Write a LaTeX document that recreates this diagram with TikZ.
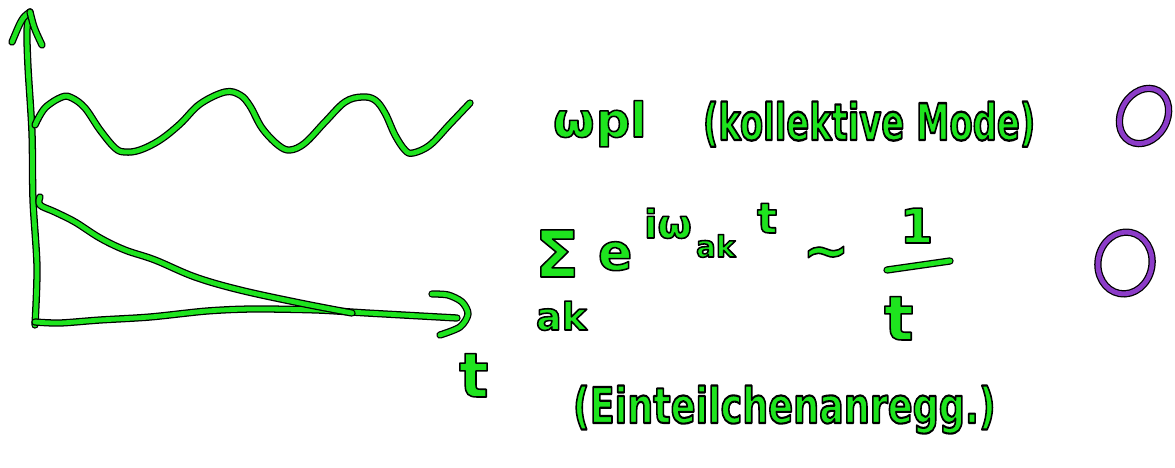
\documentclass[tikz,border=0pt]{standalone}
\usepackage{fontspec}
\setmainfont{DejaVu Sans}
\usepackage{graphicx}
\definecolor{hand}{RGB}{30,228,30}
\definecolor{ink}{RGB}{140,60,200}
\newcommand{\fs}[1]{\fontsize{#1}{#1}\selectfont\bfseries}
\newcommand{\ol}[1]{\special{pdf:literal direct 2 Tr 1.1 w 1 j 0 0 0 RG}#1\special{pdf:literal direct 0 Tr}}
\tikzset{
  pen/.style={draw=hand, line width=3.4pt, line cap=round, line join=round,
    preaction={draw=black, line width=5.2pt, line cap=round, line join=round}},
  purplepen/.style={draw=ink, line width=3.4pt, line cap=round, line join=round,
    preaction={draw=black, line width=5.2pt, line cap=round, line join=round}},
  lbl/.style={text=hand, inner sep=0pt, outer sep=0pt}
}
\begin{document}
\begin{tikzpicture}[x=0.025cm, y=-0.025cm]
\useasboundingbox (0,0) rectangle (1175,467);
% axes
\coordinate (O) at (35,325);
\coordinate (ytop) at (30,12);
\coordinate (xend) at (457,318);
\draw[pen] plot[smooth] coordinates {(35,325) (37,267) (33,200) (32,133) (28,67) (27,30) (30,12)};
\draw[pen] (ytop) .. controls (22,18) .. (12,42);
\draw[pen] (ytop) .. controls (34,28) .. (42,45);
\draw[pen] plot[smooth] coordinates {(35,322) (60,323) (100,320) (150,317) (207,311) (253,309) (317,310) (367,313) (457,318)};
\draw[pen] plot[smooth] coordinates {(432,294) (448,295) (462,302) (468,314) (460,327) (440,335)};
% wave
\draw[pen] plot[smooth, tension=0.6] coordinates {(35,125) (45,108) (62,97) (72,98) (85,108) (100,130) (115,148) (125,152) (140,150) (160,140) (180,124) (200,104) (225,92) (240,95) (250,106) (262,128) (278,145) (290,150) (305,143) (325,122) (345,102) (362,97) (375,100) (385,113) (395,135) (405,150) (413,153) (430,145) (450,124) (470,103)};
% decay
\draw[pen] plot[smooth, tension=0.6] coordinates {(40,197) (40,205) (55,212) (75,222) (100,238) (125,250) (155,260) (195,277) (240,290) (300,303) (352,313)};
% axis label
\node[lbl, anchor=base west] (tlab) at (459,397) {\fs{44}\ol{t}};
% upper label
\node[lbl, anchor=base west] (wpl) at (553,137) {\fs{34}\ol{ω\kern1pt pl}};
\node[lbl, anchor=base west] (koll) at (703,140) {\scalebox{1}[1.5]{\fs{24}\ol{(kollektive Mode)}}};
% sum formula
\node[lbl, anchor=base west] (sig) at (535,277) {\fs{46}\ol{Σ}};
\node[lbl, anchor=base west] (sub) at (536,330) {\fs{27}\ol{ak}};
\node[lbl, anchor=base west] (e) at (598,270) {\fs{36}\ol{e}};
\node[lbl, anchor=base west] (iw) at (644,238) {\fs{28}\ol{iω}};
\node[lbl, anchor=base west] (ak) at (696,257) {\fs{21}\ol{ak}};
\node[lbl, anchor=base west] (t1) at (757,233) {\fs{30}\ol{t}};
\node[lbl] (sim) at (826,258) {\fs{40}\ol{∼}};
\node[lbl, anchor=base west] (one) at (900,243) {\fs{34}\ol{1}};
\coordinate (barL) at (887,270);
\coordinate (barR) at (950,261);
\draw[pen] (barL) -- (barR);
\node[lbl, anchor=base west] (t2) at (884,340) {\fs{44}\ol{t}};
% lower label
\node[lbl, anchor=base west] (ein) at (573,423) {\scalebox{1}[1.35]{\fs{26}\ol{(Einteilchenanregg.)}}};
% purple circles
\draw[purplepen, rotate around={-30:(1144,116)}] (1144,116) ellipse [x radius=23, y radius=29];
\draw[purplepen, rotate around={-10:(1125,263)}] (1125,263) ellipse [x radius=27, y radius=31];
\end{tikzpicture}
\end{document}
